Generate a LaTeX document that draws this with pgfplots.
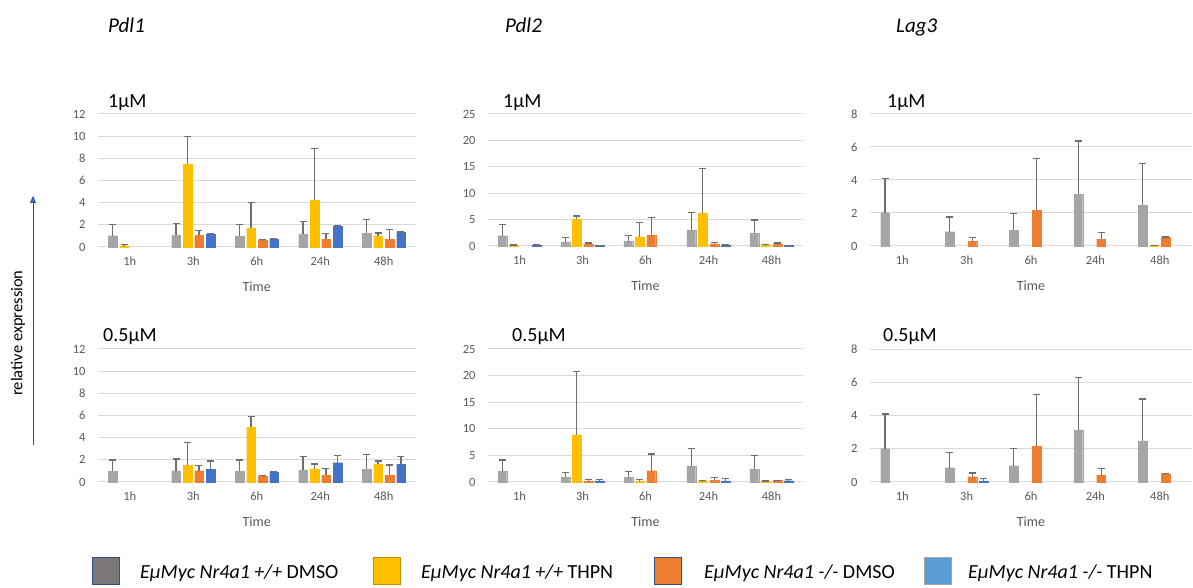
\documentclass[border=0pt]{standalone}
\usepackage{fontspec}
\setmainfont{Carlito}
\usepackage{pgfplots}
\pgfplotsset{compat=1.18}
\usetikzlibrary{arrows.meta}
\definecolor{cgray}{HTML}{A5A5A5}
\definecolor{cyellow}{HTML}{FFC000}
\definecolor{corange}{HTML}{ED7D31}
\definecolor{cblue}{HTML}{4472C4}
\definecolor{gridc}{HTML}{D9D9D9}
\definecolor{tickc}{HTML}{595959}
\definecolor{errc}{HTML}{6F6F6F}
\definecolor{lgray}{HTML}{7B7777}
\definecolor{lblue}{HTML}{5B9BD5}
\definecolor{bordb}{HTML}{2F528F}
\definecolor{bordy}{HTML}{BF9000}
\definecolor{arrc}{HTML}{4472C4}
\pgfplotsset{
  s1/.style={fill=cgray, draw=cgray, line width=0.1pt, bar shift=-17.2pt},
  s2/.style={fill=cyellow, draw=cyellow, line width=0.1pt, bar shift=-5.7pt},
  s3/.style={fill=corange, draw=corange, line width=0.1pt, bar shift=5.7pt},
  s4/.style={fill=cblue, draw=cblue, line width=0.1pt, bar shift=17.2pt},
  panel/.style={
    anchor=south west, scale only axis, height=133pt,
    xmin=-0.5, xmax=4.5, ymin=0, enlargelimits=false,
    xtick={0,1,2,3,4}, xticklabels={1h,3h,6h,24h,48h},
    axis line style={draw=none}, major tick length=0pt,
    ymajorgrids, grid style={draw=gridc, line width=1pt},
    tick label style={text=tickc},
    xticklabel style={font=\fontsize{12.5}{14}\selectfont, yshift=-6pt},
    yticklabel style={font=\fontsize{12.5}{14}\selectfont, xshift=-9pt},
    /pgf/number format/assume math mode=true,
    xlabel={Time},
    xlabel style={font=\fontsize{14}{16}\selectfont, text=tickc, at={(axis description cs:0.5,0)}, anchor=center, yshift=-40pt},
    ybar, bar width=8.8pt, clip=false,
    error bars/y dir=plus, error bars/y explicit, error bars/error mark=|,
    error bars/error bar style={draw=errc, line width=1.2pt},
    error bars/error mark options={draw=errc, line width=1.2pt, mark size=3.5pt, rotate=0},
  },
}
\begin{document}
\begin{tikzpicture}
% ---------- Pdl1 1uM
\begin{axis}[panel, at={(98pt,341pt)}, width=317.5pt, ymax=12, ytick={0,2,...,12}]
\addplot[s1] coordinates {(0,1.02)+-(0,0.98) (1,1.05)+-(0,1.05) (2,1.0)+-(0,1.0) (3,1.15)+-(0,1.15) (4,1.25)+-(0,1.2)};
\addplot[s2] coordinates {(0,0.12)+-(0,0.08) (1,7.46)+-(0,2.5) (2,1.71)+-(0,2.3) (3,4.22)+-(0,4.7) (4,1.02)+-(0,0.25)};
\addplot[s3] coordinates {(1,1.05)+-(0,0.45) (2,0.6)+-(0,0.05) (3,0.68)+-(0,0.55) (4,0.72)+-(0,0.88)};
\addplot[s4] coordinates {(1,1.17)+-(0,0.03) (2,0.72)+-(0,0.03) (3,1.88)+-(0,0.03) (4,1.33)+-(0,0.03)};
\end{axis}
% ---------- Pdl2 1uM
\begin{axis}[panel, at={(488pt,342pt)}, width=315pt, height=132pt, ymax=25, ytick={0,5,...,25}]
\addplot[s1] coordinates {(0,1.96)+-(0,2.08) (1,0.76)+-(0,0.88) (2,0.88)+-(0,1.08) (3,3.03)+-(0,3.35) (4,2.4)+-(0,2.52)};
\addplot[s2] coordinates {(0,0.1)+-(0,0.1) (1,5.05)+-(0,0.63) (2,1.77)+-(0,2.71) (3,6.19)+-(0,8.5) (4,0.2)+-(0,0.05)};
\addplot[s3] coordinates {(1,0.38)+-(0,0.17) (2,2.08)+-(0,3.29) (3,0.4)+-(0,0.33) (4,0.45)+-(0,0.1)};
\addplot[s4] coordinates {(0,0.12)+-(0,0.05) (1,0.1)+-(0,0.05) (3,0.12)+-(0,0.05) (4,0.1)+-(0,0.03)};
\end{axis}
% ---------- Lag3 1uM
\begin{axis}[panel, at={(870pt,342pt)}, width=322pt, height=132pt, ymax=8, ytick={0,2,...,8}]
\addplot[s1] coordinates {(0,2.02)+-(0,2.08) (1,0.87)+-(0,0.89) (2,0.97)+-(0,1.01) (3,3.15)+-(0,3.21) (4,2.46)+-(0,2.54)};
\addplot[s2] coordinates {(4,0.03)+-(0,0.0)};
\addplot[s3] coordinates {(1,0.3)+-(0,0.23) (2,2.18)+-(0,3.13) (3,0.42)+-(0,0.39) (4,0.53)+-(0,0.02)};
\end{axis}
% ---------- Pdl1 0.5uM
\begin{axis}[panel, at={(98pt,106pt)}, width=317.5pt, ymax=12, ytick={0,2,...,12}]
\addplot[s1] coordinates {(0,0.99)+-(0,0.99) (1,1.02)+-(0,1.06) (2,0.99)+-(0,0.99) (3,1.1)+-(0,1.17) (4,1.17)+-(0,1.3)};
\addplot[s2] coordinates {(1,1.5)+-(0,2.08) (2,4.93)+-(0,0.96) (3,1.2)+-(0,0.42) (4,1.62)+-(0,0.28)};
\addplot[s3] coordinates {(1,1.02)+-(0,0.45) (2,0.54)+-(0,0.06) (3,0.6)+-(0,0.6) (4,0.63)+-(0,0.9)};
\addplot[s4] coordinates {(1,1.17)+-(0,0.73) (2,0.87)+-(0,0.1) (3,1.74)+-(0,0.65) (4,1.62)+-(0,0.68)};
\end{axis}
% ---------- Pdl2 0.5uM
\begin{axis}[panel, at={(488pt,106pt)}, width=315pt, ymax=25, ytick={0,5,...,25}]
\addplot[s1] coordinates {(0,2.0)+-(0,2.14) (1,0.94)+-(0,0.81) (2,0.88)+-(0,1.12) (3,3.05)+-(0,3.2) (4,2.38)+-(0,2.57)};
\addplot[s2] coordinates {(1,8.9)+-(0,11.8) (2,0.15)+-(0,0.3) (3,0.2)+-(0,0.05) (4,0.15)+-(0,0.05)};
\addplot[s3] coordinates {(1,0.2)+-(0,0.25) (2,2.13)+-(0,3.13) (3,0.42)+-(0,0.45) (4,0.3)+-(0,0.05)};
\addplot[s4] coordinates {(1,0.2)+-(0,0.25) (3,0.2)+-(0,0.4) (4,0.25)+-(0,0.25)};
\end{axis}
% ---------- Lag3 0.5uM
\begin{axis}[panel, at={(870pt,106pt)}, width=322pt, ymax=8, ytick={0,2,...,8}]
\addplot[s1] coordinates {(0,2.0)+-(0,2.09) (1,0.86)+-(0,0.9) (2,0.98)+-(0,1.02) (3,3.13)+-(0,3.16) (4,2.48)+-(0,2.51)};
\addplot[s3] coordinates {(1,0.32)+-(0,0.22) (2,2.18)+-(0,3.09) (3,0.42)+-(0,0.38) (4,0.5)+-(0,0.02)};
\addplot[s4] coordinates {(1,0.06)+-(0,0.16)};
\end{axis}
% ---------- titles
\node[anchor=base west, inner sep=0, font=\fontsize{21}{24}\selectfont\itshape] at (108pt,555pt) {Pdl1};
\node[anchor=base west, inner sep=0, font=\fontsize{21}{24}\selectfont\itshape] at (505pt,555pt) {Pdl2};
\node[anchor=base west, inner sep=0, font=\fontsize{21}{24}\selectfont\itshape] at (896pt,555pt) {Lag3};
% ---------- subtitles
\node[anchor=base west, inner sep=0, font=\fontsize{20}{24}\selectfont] at (108pt,480pt) {1µM};
\node[anchor=base west, inner sep=0, font=\fontsize{20}{24}\selectfont] at (503pt,480pt) {1µM};
\node[anchor=base west, inner sep=0, font=\fontsize{20}{24}\selectfont] at (887pt,480pt) {1µM};
\node[anchor=base west, inner sep=0, font=\fontsize{20}{24}\selectfont] at (103pt,246pt) {0.5µM};
\node[anchor=base west, inner sep=0, font=\fontsize{20}{24}\selectfont] at (512pt,246pt) {0.5µM};
\node[anchor=base west, inner sep=0, font=\fontsize{20}{24}\selectfont] at (883pt,246pt) {0.5µM};
% ---------- y label and arrow
\node[rotate=90, inner sep=0, font=\fontsize{16.5}{18}\selectfont] at (18pt,255pt) {relative expression};
\draw[draw=bordb, line width=0.8pt, -{Triangle[length=7pt,width=6pt,fill=arrc]}] (33pt,143pt) -- (33pt,392pt);
% ---------- legend
\draw[fill=lgray, draw=bordb, line width=1pt] (92pt,3pt) rectangle (119pt,30pt);
\node[anchor=base west, inner sep=0, font=\fontsize{20}{24}\selectfont] at (140pt,9pt) {\itshape EμMyc Nr4a1 +/+\upshape\ DMSO};
\draw[fill=cyellow, draw=bordy, line width=1pt] (373pt,3pt) rectangle (400pt,30pt);
\node[anchor=base west, inner sep=0, font=\fontsize{20}{24}\selectfont] at (421pt,9pt) {\itshape EμMyc Nr4a1 +/+\upshape\ THPN};
\draw[fill=corange, draw=bordb, line width=1pt] (654pt,3pt) rectangle (681pt,30pt);
\node[anchor=base west, inner sep=0, font=\fontsize{20}{24}\selectfont] at (704pt,9pt) {\itshape EμMyc Nr4a1 -/-\upshape\ DMSO};
\draw[fill=lblue, draw=cgray, line width=1pt] (924pt,3pt) rectangle (951pt,30pt);
\node[anchor=base west, inner sep=0, font=\fontsize{20}{24}\selectfont] at (968pt,9pt) {\itshape EμMyc Nr4a1 -/-\upshape\ THPN};
\pgfresetboundingbox
\useasboundingbox (0pt,0pt) rectangle (1193pt,588pt);
\end{tikzpicture}
\end{document}
